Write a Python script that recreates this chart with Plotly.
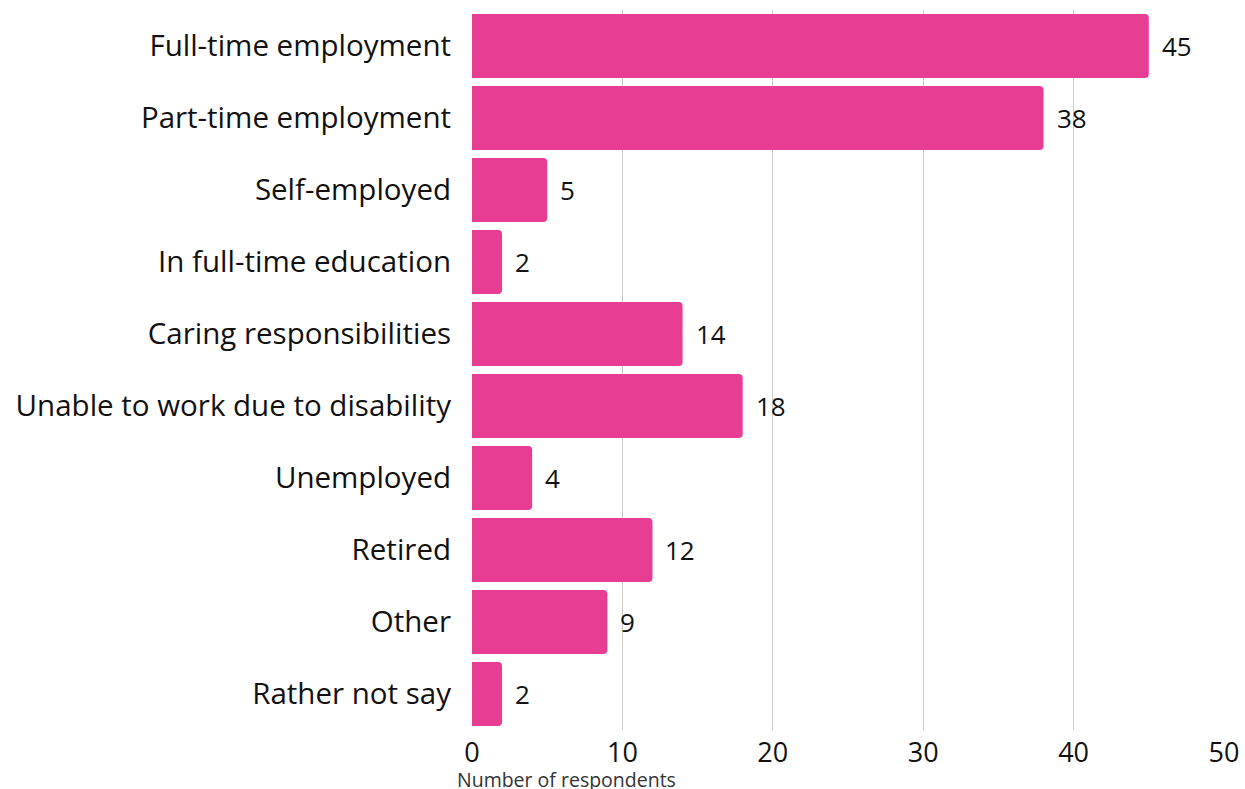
import plotly.graph_objects as go

categories = ["Full-time employment", "Part-time employment", "Self-employed",
              "In full-time education", "Caring responsibilities",
              "Unable to work due to disability", "Unemployed", "Retired",
              "Other", "Rather not say"]
values = [45, 38, 5, 2, 14, 18, 4, 12, 9, 2]
x_ticks = [0, 10, 20, 30, 40, 50]
x_title = "Number of respondents"

FONT = "Open Sans"
fig = go.Figure(go.Bar(
    x=values, y=categories, orientation="h",
    marker=dict(color="#E73E94", line=dict(width=0)),
    hoverinfo="skip",
))
for c, v in zip(categories, values):
    fig.add_annotation(x=v, y=c, text=str(v), showarrow=False, xanchor="left",
                       xshift=11, yshift=0, font=dict(family=FONT, size=26, color="#111"))
fig.add_annotation(x=0, y=0, xref="paper", yref="paper", text=x_title, showarrow=False,
                   xanchor="left", yanchor="top", xshift=-17, yshift=-34,
                   font=dict(family=FONT, size=19.5, color="#333"))
fig.update_layout(
    width=1245, height=789,
    margin=dict(l=472, r=21, t=10, b=59),
    plot_bgcolor="white", paper_bgcolor="white",
    bargap=0.111, barcornerradius=4,
    showlegend=False,
    font=dict(family=FONT, color="#111"),
)
fig.update_xaxes(range=[0, 50], tickvals=x_ticks, showgrid=True, gridcolor="#cccccc",
                 gridwidth=1, zeroline=False, showline=False, automargin=False,
                 tickfont=dict(size=27, family=FONT), ticks="", ticklabelstandoff=4)
fig.update_yaxes(autorange="reversed", showgrid=False, zeroline=False, showline=False,
                 automargin=False,
                 tickfont=dict(size=29.5, family=FONT), ticks="", ticklabelstandoff=20)
fig.write_html("out.html", config={"displayModeBar": False},
               post_script="document.body.style.margin='0';"
                           "document.documentElement.style.overflow='hidden';")
